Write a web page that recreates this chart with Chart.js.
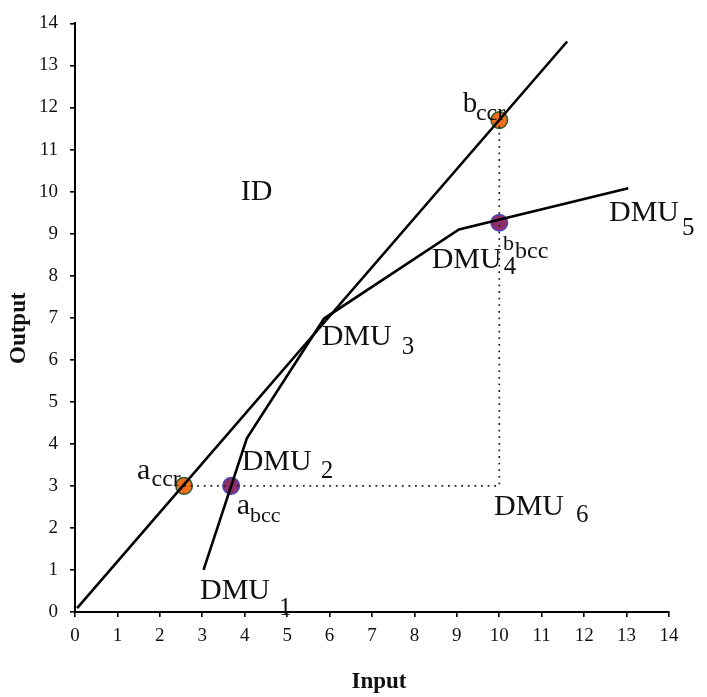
<!DOCTYPE html>
<html>
<head>
<meta charset="utf-8">
<script src="https://cdn.jsdelivr.net/npm/chart.js@4"></script>
<style>
  html, body { margin: 0; padding: 0; background: #fff; }
  #c { display: block; }
</style>
</head>
<body>
<canvas id="c" width="707" height="697"></canvas>
<script>
// ---------- data ----------
const tickValues = [0,1,2,3,4,5,6,7,8,9,10,11,12,13,14];
// CCR frontier (constant returns to scale ray)
const ccrLineX = [0.05, 11.6];
const ccrLineY = [0.09, 13.57];
// BCC frontier through DMU1..DMU5
const frontierNames = ['DMU1','DMU2','DMU3','DMU4','DMU5'];
const frontierX = [3.03, 4.05, 5.87, 9.05, 13.04];
const frontierY = [1.00, 4.13, 6.98, 9.10, 10.08];
// projection path of DMU6 (dotted)
const projX = [2.57, 10.0, 10.0];
const projY = [3.0, 3.0, 11.7];
// CCR projections a_ccr, b_ccr
const ccrPtsX = [2.57, 10.0];
const ccrPtsY = [3.0, 11.7];
// BCC projections a_bcc, b_bcc
const bccPtsX = [3.68, 10.0];
const bccPtsY = [3.0, 9.26];

const pts = (xs, ys) => xs.map((x, i) => ({x: x, y: ys[i]}));

// ---------- annotations (anchor in data units, offsets in px) ----------
const SERIF = '"Liberation Serif", "Times New Roman", serif';
const annotations = [
  {main: 'ID', x: 3.905, y: 9.79, size: 30},
  {main: 'DMU', sub: '1', x: 2.946, y: 0.313, size: 30, subSize: 25, dx: 79, dy: 16.5},
  {main: 'DMU', sub: '2', x: 3.929, y: 3.379, size: 30, subSize: 25, dx: 79, dy: 7.7},
  {main: 'DMU', sub: '3', x: 5.814, y: 6.341, size: 30, subSize: 25, dx: 80, dy: 8.6},
  {main: 'DMU', sub: '4', x: 8.407, y: 8.189, size: 30, subSize: 25, dx: 72, dy: 6.6},
  {main: 'DMU', sub: '5', x: 12.585, y: 9.305, size: 30, subSize: 25, dx: 73, dy: 14},
  {main: 'DMU', sub: '6', x: 9.875, y: 2.302, size: 30, subSize: 25, dx: 82, dy: 6.7},
  {main: 'a', sub: 'ccr', x: 1.461, y: 3.158, size: 30, subSize: 24, dx: 14.5, dy: 6.3},
  {main: 'a', sub: 'bcc', x: 3.811, y: 2.34, size: 30, subSize: 22, dx: 13.3, dy: 8.3},
  {main: 'b', sub: 'ccr', x: 9.137, y: 11.902, size: 29, subSize: 24, dx: 13.3, dy: 8.7},
  {main: 'b', sub: 'bcc', x: 10.087, y: 8.62, size: 22, subSize: 24, dx: 12, dy: 8.4}
];

const labelPlugin = {
  id: 'labels',
  afterDraw(chart) {
    const ctx = chart.ctx;
    const xs = chart.scales.x, ys = chart.scales.y;
    const area = chart.chartArea;
    ctx.save();
    ctx.fillStyle = '#111';
    ctx.textAlign = 'left';
    ctx.textBaseline = 'alphabetic';
    annotations.forEach(a => {
      const px = xs.getPixelForValue(a.x);
      const py = ys.getPixelForValue(a.y);
      ctx.font = a.size + 'px ' + SERIF;
      ctx.fillText(a.main, px, py);
      if (a.sub) {
        ctx.font = a.subSize + 'px ' + SERIF;
        ctx.fillText(a.sub, px + a.dx, py + a.dy);
      }
    });
    // axis titles
    ctx.font = 'bold 23px ' + SERIF;
    ctx.textAlign = 'center';
    ctx.fillText('Input', xs.getPixelForValue(7.165), area.bottom + 76);
    ctx.translate(area.left - 50, ys.getPixelForValue(6.75));
    ctx.rotate(-Math.PI / 2);
    ctx.fillText('Output', 0, 0);
    ctx.restore();
  }
};

const tickFont = {family: SERIF, size: 19};

new Chart(document.getElementById('c'), {
  type: 'scatter',
  data: {
    datasets: [
      {
        label: 'CCR',
        data: pts(ccrLineX, ccrLineY),
        showLine: true, borderColor: '#000', borderWidth: 2.6,
        pointRadius: 0, tension: 0, order: 0
      },
      {
        label: 'BCC',
        data: pts(frontierX, frontierY),
        showLine: true, borderColor: '#000', borderWidth: 2.6,
        pointRadius: 0, tension: 0, order: 0
      },
      {
        label: 'projection',
        data: pts(projX, projY),
        showLine: true, borderColor: '#222', borderWidth: 1.7,
        borderDash: [1.8, 4.8], pointRadius: 0, tension: 0, order: 1
      },
      {
        label: 'ccr points',
        data: pts(ccrPtsX, ccrPtsY),
        showLine: false, pointRadius: 8.3, pointBorderWidth: 1.5,
        pointBackgroundColor: '#EF6E1E', pointBorderColor: '#2A5A24', order: 2
      },
      {
        label: 'bcc points',
        data: pts(bccPtsX, bccPtsY),
        showLine: false, pointRadius: 8.3, pointBorderWidth: 1.5,
        pointBackgroundColor: '#8E2F6C', pointBorderColor: '#4848B4', order: 2
      }
    ]
  },
  options: {
    responsive: false,
    animation: false,
    devicePixelRatio: 1,
    layout: {padding: {top: 13, right: 38, bottom: 0, left: 0}},
    plugins: {legend: {display: false}, tooltip: {enabled: false}},
    scales: {
      x: {
        type: 'linear', min: tickValues[0], max: tickValues[tickValues.length - 1],
        afterFit(s) { s.height = 85; },
        afterBuildTicks(s) { s.ticks = tickValues.map(v => ({value: v})); },
        ticks: {stepSize: 1, autoSkip: false, maxRotation: 0, color: '#111', font: tickFont, padding: 8},
        grid: {drawOnChartArea: false, drawTicks: true, tickLength: 5, color: '#000', lineWidth: 1.6},
        border: {display: true, color: '#000', width: 2}
      },
      y: {
        type: 'linear', min: tickValues[0], max: tickValues[tickValues.length - 1],
        afterFit(s) { s.width = 75; },
        afterBuildTicks(s) { s.ticks = tickValues.map(v => ({value: v})); },
        ticks: {stepSize: 1, autoSkip: false, color: '#111', font: tickFont, padding: 12},
        grid: {drawOnChartArea: false, drawTicks: true, tickLength: 5, color: '#000', lineWidth: 1.6},
        border: {display: true, color: '#000', width: 2}
      }
    }
  },
  plugins: [labelPlugin]
});
</script>
</body>
</html>
